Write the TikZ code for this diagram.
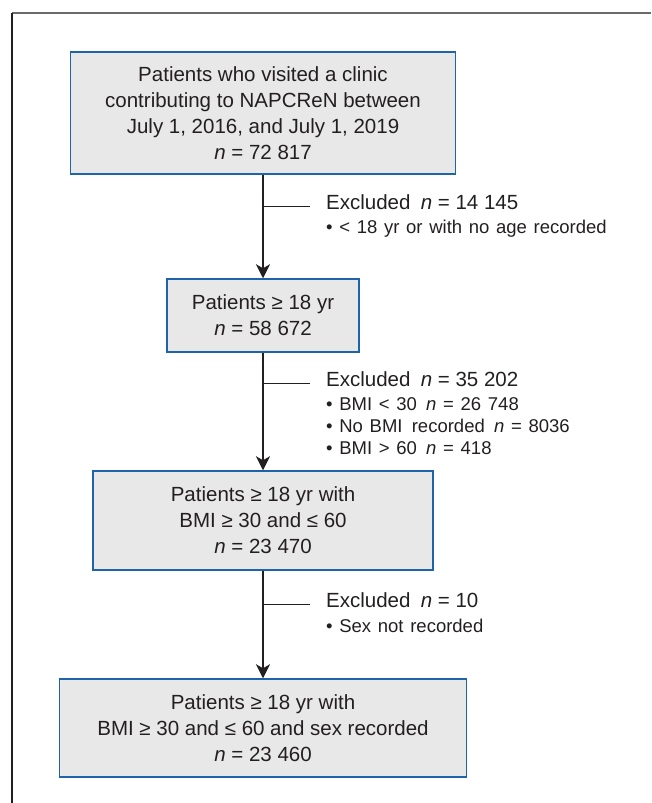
\documentclass[tikz,border=0pt]{standalone}
\usepackage{fontspec}
\setmainfont{Liberation Sans}
\newfontfamily\listfont[WordSpace=1.3]{Liberation Sans}
\usetikzlibrary{arrows.meta}

\definecolor{boxblue}{HTML}{1F63A8}
\definecolor{boxgray}{HTML}{E8E8E8}
\definecolor{ink}{HTML}{231F20}
\definecolor{framegray}{HTML}{6A6A6A}

\tikzset{
  box/.style={draw=boxblue, fill=boxgray, line width=1.5pt, align=center, inner sep=0pt,
    text=ink, font=\fontsize{20.5}{26}\selectfont},
  exhead/.style={anchor=base west, inner sep=0pt, text=ink, font=\fontsize{20.5}{26}\selectfont},
  exlist/.style={anchor=base west, inner sep=0pt, text=ink, font=\listfont\fontsize{18.5}{22}\selectfont},
  flow/.style={-{Stealth[length=14pt,width=14pt,inset=4pt]}, line width=1.5pt, draw=ink},
  branch/.style={line width=1.5pt, draw=ink}
}

\begin{document}
\begin{tikzpicture} [x=1pt, y=-1pt]

\useasboundingbox (0,0) rectangle (651,803);

% frame
\draw [framegray, line width=1.8pt] (12,13) -- (651,13);
\draw [ink, line width=1.5pt] (12,13) -- (12,803);

% boxes
\node [box, minimum width=385, minimum height=122] (all) at (263,113)
  {Patients who visited a clinic\\ contributing to NAPCReN between\\ July 1, 2016, and July 1, 2019\\ \textit{n} = 72 817};
\node [box, minimum width=192, minimum height=73] (adult) at (263,315.5)
  {Patients ≥ 18 yr\\ \textit{n} = 58 672};
\node [box, minimum width=340, minimum height=99] (bmi) at (263,520.5)
  {Patients ≥ 18 yr with\\ BMI ≥ 30 and ≤ 60\\ \textit{n} = 23 470};
\node [box, minimum width=407, minimum height=98] (final) at (263,728)
  {Patients ≥ 18 yr with\\ BMI ≥ 30 and ≤ 60 and sex recorded\\ \textit{n} = 23 460};

\draw [flow] (all) -- (adult);
\draw [flow] (adult) -- (bmi);
\draw [flow] (bmi) -- (final);

% exclusions
\node [exhead] (exage) at (326,209) {Excluded\enspace\textit{n} = 14 145};
\node [exlist] (exage1) at (326,233) {\textbullet{} < 18 yr or with no age recorded};
\draw [branch] (all |- exage.mid west) -- ([xshift=-16pt]exage.mid west);

\node [exhead] (exbmi) at (326,386) {Excluded\enspace\textit{n} = 35 202};
\node [exlist] (exbmi1) at (326,410) {\textbullet{} BMI < 30\enspace\textit{n} = 26 748};
\node [exlist] (exbmi2) at (326,432) {\textbullet{} No BMI\enspace recorded\enspace\textit{n} = 8036};
\node [exlist] (exbmi3) at (326,454) {\textbullet{} BMI > 60\enspace\textit{n} = 418};
\draw [branch] (adult |- exbmi.mid west) -- ([xshift=-16pt]exbmi.mid west);

\node [exhead] (exsex) at (326,607) {Excluded\enspace\textit{n} = 10};
\node [exlist] (exsex1) at (326,632) {\textbullet{} Sex not recorded};
\draw [branch] (bmi |- exsex.mid west) -- ([xshift=-16pt]exsex.mid west);

\end{tikzpicture}
\end{document}
